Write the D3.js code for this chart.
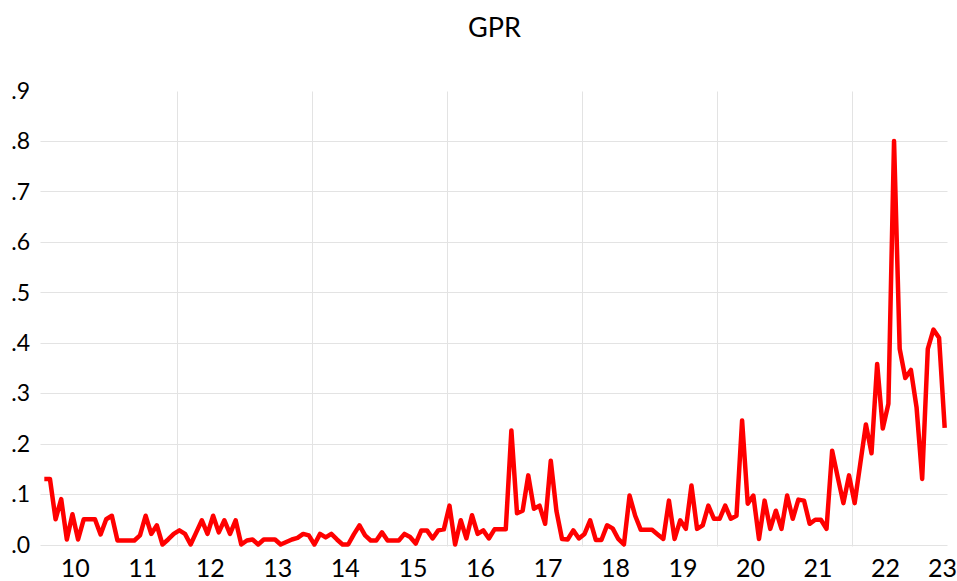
<!DOCTYPE html>
<html>
<head>
<meta charset="utf-8">
<script src="https://cdn.jsdelivr.net/npm/d3@7"></script>
<style>
  html, body { margin: 0; padding: 0; background: #fff; }
  svg text { font-family: Lato, "Open Sans", sans-serif; fill: #000; }
</style>
</head>
<body>
<svg id="chart" width="957" height="581"></svg>
<script>
// ---- data (monthly, Jan 2010 .. May 2023) ----
const title = "GPR";
const startYear = 2010;
const values = [
  0.13, 0.13, 0.05, 0.09, 0.01, 0.06, 0.01, 0.05, 0.05, 0.05, 0.02, 0.05,
  0.057, 0.008, 0.008, 0.008, 0.008, 0.018, 0.057, 0.021, 0.038, 0.0, 0.01, 0.021,
  0.028, 0.021, 0.0, 0.024, 0.048, 0.021, 0.057, 0.024, 0.048, 0.021, 0.048, 0.0,
  0.008, 0.01, 0.0, 0.01, 0.01, 0.01, 0.0, 0.005, 0.01, 0.013, 0.021, 0.018,
  0.0, 0.021, 0.014, 0.021, 0.01, 0.0, 0.0, 0.02, 0.038, 0.018, 0.008, 0.008,
  0.024, 0.008, 0.008, 0.008, 0.021, 0.015, 0.002, 0.028, 0.028, 0.012, 0.028, 0.03,
  0.077, 0.0, 0.048, 0.012, 0.058, 0.021, 0.028, 0.012, 0.03, 0.03, 0.03, 0.226,
  0.062, 0.067, 0.137, 0.071, 0.077, 0.041, 0.166, 0.067, 0.011, 0.01, 0.028, 0.012,
  0.021, 0.048, 0.009, 0.009, 0.038, 0.032, 0.011, 0.0, 0.097, 0.057, 0.029, 0.029,
  0.029, 0.02, 0.011, 0.087, 0.011, 0.048, 0.031, 0.117, 0.031, 0.038, 0.077, 0.051,
  0.051, 0.077, 0.051, 0.057, 0.246, 0.081, 0.097, 0.011, 0.087, 0.031, 0.067, 0.031,
  0.097, 0.051, 0.089, 0.087, 0.041, 0.049, 0.049, 0.031, 0.186, 0.133, 0.082, 0.137,
  0.082, 0.16, 0.238, 0.181, 0.358, 0.23, 0.279, 0.80, 0.388, 0.33, 0.346, 0.272,
  0.13, 0.388, 0.426, 0.41, 0.231
];
const yTicks = [0, 0.1, 0.2, 0.3, 0.4, 0.5, 0.6, 0.7, 0.8, 0.9];
const yTickLabels = [".0", ".1", ".2", ".3", ".4", ".5", ".6", ".7", ".8", ".9"];
const yearLabels = ["10","11","12","13","14","15","16","17","18","19","20","21","22","23"];
const gridYears = [2012, 2014, 2016, 2018, 2020, 2022];

// ---- layout ----
const svg = d3.select("#chart");
const mLeft = 41.5, mRight = 947.5, mTop = 90.5, mBottom = 544.5;
const n = values.length;

const x = d3.scaleLinear().domain([0, n]).range([mLeft, mRight]);
const y = d3.scaleLinear().domain([0, 0.9]).range([mBottom, mTop]);

// horizontal gridlines
svg.append("g").selectAll("line")
  .data(yTicks.filter(t => t < 0.85))
  .join("line")
  .attr("x1", mLeft - 1).attr("x2", mRight)
  .attr("y1", d => Math.round(y(d)) + 0.5).attr("y2", d => Math.round(y(d)) + 0.5)
  .attr("stroke", "#e3e3e3").attr("stroke-width", 1);

// vertical gridlines (every two years)
svg.append("g").selectAll("line")
  .data(gridYears)
  .join("line")
  .attr("x1", d => Math.round(x((d - startYear) * 12)) + 0.5)
  .attr("x2", d => Math.round(x((d - startYear) * 12)) + 0.5)
  .attr("y1", mTop + 1).attr("y2", mBottom + 2)
  .attr("stroke", "#e3e3e3").attr("stroke-width", 1);

// y labels
svg.append("g").selectAll("text")
  .data(yTicks)
  .join("text")
  .attr("x", 30).attr("y", d => y(d))
  .attr("dy", "0.36em")
  .attr("text-anchor", "end")
  .attr("font-size", 23)
  .text((d, i) => yTickLabels[i]);

// x labels (centered on each year, last one kept inside)
svg.append("g").selectAll("text")
  .data(yearLabels)
  .join("text")
  .attr("x", (d, i) => x(Math.min(i * 12 + 6, n - 0.9)))
  .attr("y", 577)
  .attr("text-anchor", "middle")
  .attr("font-size", 25)
  .text(d => d);

// line
const line = d3.line()
  .x((d, i) => x(i + 0.5))
  .y(d => y(d));

svg.append("path")
  .datum(values)
  .attr("d", line)
  .attr("fill", "none")
  .attr("stroke", "#ff0000")
  .attr("stroke-width", 4.5)
  .attr("stroke-linejoin", "round")
  .attr("stroke-linecap", "butt");

// title
svg.append("text")
  .attr("x", (mLeft + mRight) / 2)
  .attr("y", 37)
  .attr("text-anchor", "middle")
  .attr("font-size", 27)
  .text(title);
</script>
</body>
</html>
